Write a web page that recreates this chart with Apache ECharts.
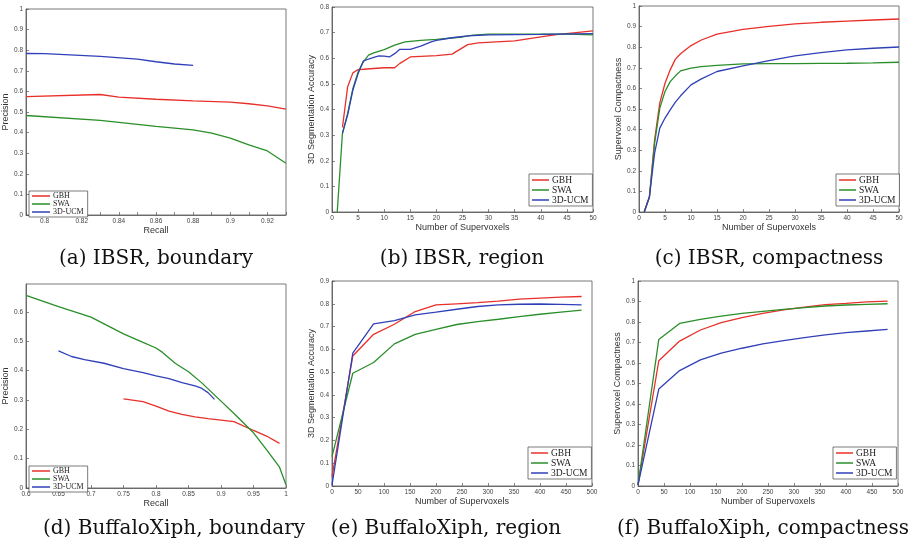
<!DOCTYPE html>
<html>
<head>
<meta charset="utf-8">
<script src="https://cdn.jsdelivr.net/npm/echarts@6/dist/echarts.min.js"></script>
<style>
  html, body { margin: 0; padding: 0; background: #fff; }
  #chart { width: 915px; height: 543px; }
</style>
</head>
<body>
<div id="chart"></div>
<script>
// series names
const names = ["GBH", "SWA", "3D-UCM"];
const colors = ["#e8302a", "#2a8f2a", "#3040b8"];

// (a) IBSR, boundary
const aGbhX = [0.79, 0.83, 0.84, 0.86, 0.88, 0.90, 0.91, 0.92, 0.93];
const aGbhY = [0.575, 0.585, 0.572, 0.562, 0.554, 0.548, 0.540, 0.530, 0.514];
const aSwaX = [0.79, 0.83, 0.86, 0.88, 0.89, 0.90, 0.91, 0.92, 0.93];
const aSwaY = [0.483, 0.459, 0.430, 0.413, 0.397, 0.373, 0.340, 0.311, 0.251];
const aUcmX = [0.79, 0.80, 0.83, 0.85, 0.86, 0.87, 0.88];
const aUcmY = [0.784, 0.783, 0.770, 0.757, 0.744, 0.733, 0.726];

// (b) IBSR, region
const bGbhX = [2, 3, 4, 5, 6, 8, 10, 12, 13, 15, 20, 23, 26, 28, 35, 40, 43, 50];
const bGbhY = [0.33, 0.489, 0.543, 0.556, 0.557, 0.560, 0.563, 0.563, 0.58, 0.605, 0.61, 0.616, 0.653, 0.66, 0.668, 0.683, 0.692, 0.707];
const bSwaX = [1, 2, 3, 4, 5, 6, 7, 8, 10, 12, 14, 17, 20, 25, 27, 30, 40, 45, 50];
const bSwaY = [0, 0.307, 0.385, 0.482, 0.547, 0.586, 0.612, 0.621, 0.634, 0.651, 0.664, 0.670, 0.674, 0.683, 0.69, 0.694, 0.694, 0.694, 0.691];
const bUcmX = [2, 3, 4, 5, 6, 7, 8, 9, 10, 11, 12, 13, 15, 17, 19, 20, 23, 26, 30, 40, 50];
const bUcmY = [0.307, 0.379, 0.476, 0.540, 0.589, 0.597, 0.603, 0.609, 0.608, 0.605, 0.618, 0.635, 0.635, 0.647, 0.664, 0.670, 0.68, 0.687, 0.691, 0.693, 0.696];

// (c) IBSR, compactness
const cX = [1, 2, 3, 4, 5, 6, 7, 8, 10, 12, 15, 20, 25, 30, 35, 40, 45, 50];
const cGbh = [0, 0.073, 0.35, 0.53, 0.625, 0.69, 0.742, 0.768, 0.808, 0.835, 0.863, 0.887, 0.901, 0.913, 0.921, 0.927, 0.932, 0.937];
const cSwa = [0, 0.073, 0.334, 0.504, 0.585, 0.633, 0.661, 0.685, 0.698, 0.706, 0.712, 0.719, 0.720, 0.720, 0.721, 0.722, 0.724, 0.727];
const cUcm = [0, 0.073, 0.286, 0.407, 0.456, 0.496, 0.533, 0.564, 0.617, 0.646, 0.682, 0.709, 0.735, 0.758, 0.774, 0.787, 0.795, 0.801];

// (d) BuffaloXiph, boundary
const dGbhX = [0.75, 0.78, 0.80, 0.82, 0.84, 0.86, 0.88, 0.92, 0.95, 0.97, 0.99];
const dGbhY = [0.304, 0.294, 0.279, 0.262, 0.251, 0.242, 0.236, 0.226, 0.196, 0.177, 0.152];
const dSwaX = [0.6, 0.65, 0.7, 0.75, 0.78, 0.8, 0.81, 0.83, 0.85, 0.87, 0.9, 0.92, 0.95, 0.97, 0.99, 1.0];
const dSwaY = [0.656, 0.618, 0.582, 0.525, 0.496, 0.477, 0.462, 0.424, 0.396, 0.359, 0.296, 0.254, 0.188, 0.131, 0.071, 0.011];
const dUcmX = [0.65, 0.67, 0.69, 0.72, 0.75, 0.78, 0.8, 0.82, 0.84, 0.86, 0.87, 0.88, 0.89];
const dUcmY = [0.467, 0.448, 0.437, 0.425, 0.407, 0.393, 0.382, 0.373, 0.359, 0.348, 0.340, 0.325, 0.302];

// (e) BuffaloXiph, region
const eX = [0, 40, 80, 120, 160, 200, 240, 280, 320, 360, 400, 440, 480];
const eGbh = [0.041, 0.571, 0.666, 0.71, 0.766, 0.795, 0.800, 0.805, 0.812, 0.82, 0.825, 0.829, 0.832];
const eSwa = [0.129, 0.495, 0.542, 0.624, 0.666, 0.688, 0.709, 0.722, 0.732, 0.744, 0.754, 0.763, 0.772];
const eUcm = [0.004, 0.583, 0.712, 0.726, 0.751, 0.763, 0.776, 0.788, 0.795, 0.798, 0.799, 0.797, 0.795];

// (f) BuffaloXiph, compactness
const fX = [0, 40, 80, 120, 160, 200, 240, 280, 320, 360, 400, 440, 480];
const fGbh = [0.005, 0.611, 0.707, 0.761, 0.797, 0.821, 0.842, 0.859, 0.873, 0.885, 0.891, 0.898, 0.902];
const fSwa = [0.005, 0.715, 0.793, 0.813, 0.829, 0.842, 0.852, 0.862, 0.870, 0.878, 0.883, 0.886, 0.889];
const fUcm = [0.005, 0.473, 0.563, 0.615, 0.648, 0.672, 0.693, 0.709, 0.724, 0.737, 0.748, 0.756, 0.764];

const captions = [
  "(a) IBSR, boundary", "(b) IBSR, region", "(c) IBSR, compactness",
  "(d) BuffaloXiph, boundary", "(e) BuffaloXiph, region", "(f) BuffaloXiph, compactness"
];

// zip x and y into points
function pts(xs, ys) {
  return xs.map((x, i) => [x, ys[i]]);
}

function fmt(v) {
  return String(parseFloat(v.toFixed(3)));
}

const panels = [
  {
    box: [26, 9, 260, 206], xMin: 0.79, xMax: 0.93, xStep: 0.01, yMin: 0, yMax: 1, yStep: 0.1,
    xName: "Recall", yName: "Precision", evenOnly: true,
    data: [pts(aGbhX, aGbhY), pts(aSwaX, aSwaY), pts(aUcmX, aUcmY)],
    legend: { left: 29, top: 191, size: 8, row: 7, icon: 18 }
  },
  {
    box: [332, 7, 261, 205], xMin: 0, xMax: 50, xStep: 5, yMin: 0, yMax: 0.8, yStep: 0.1,
    xName: "Number of Supervoxels", yName: "3D Segmentation Accuracy",
    data: [pts(bGbhX, bGbhY), pts(bSwaX, bSwaY), pts(bUcmX, bUcmY)],
    legend: { left: 529, top: 174, size: 9.5, row: 10, icon: 17 }
  },
  {
    box: [639, 6, 260, 206], xMin: 0, xMax: 50, xStep: 5, yMin: 0, yMax: 1, yStep: 0.1,
    xName: "Number of Supervoxels", yName: "Supervoxel Compactness",
    data: [pts(cX, cGbh), pts(cX, cSwa), pts(cX, cUcm)],
    legend: { left: 836, top: 174, size: 9.5, row: 10, icon: 17 }
  },
  {
    box: [26, 284, 260, 204], xMin: 0.6, xMax: 1, xStep: 0.05, yMin: 0, yMax: 0.695, yStep: 0.1,
    xName: "Recall", yName: "Precision", hideYMax: true,
    data: [pts(dGbhX, dGbhY), pts(dSwaX, dSwaY), pts(dUcmX, dUcmY)],
    legend: { left: 29, top: 466, size: 8, row: 7, icon: 18 }
  },
  {
    box: [332, 281, 260, 205], xMin: 0, xMax: 500, xStep: 50, yMin: 0, yMax: 0.9, yStep: 0.1,
    xName: "Number of Supervoxels", yName: "3D Segmentation Accuracy",
    data: [pts(eX, eGbh), pts(eX, eSwa), pts(eX, eUcm)],
    legend: { left: 528, top: 447, size: 9.5, row: 10, icon: 17 }
  },
  {
    box: [638, 281, 260, 205], xMin: 0, xMax: 500, xStep: 50, yMin: 0, yMax: 1, yStep: 0.1,
    xName: "Number of Supervoxels", yName: "Supervoxel Compactness",
    data: [pts(fX, fGbh), pts(fX, fSwa), pts(fX, fUcm)],
    legend: { left: 833, top: 447, size: 9.5, row: 10, icon: 17 }
  }
];

const captionPos = [[151, 244], [457, 244], [764, 244], [169, 514], [441, 514], [758, 514]];

const axisColor = "#555";
const grid = [], xAxis = [], yAxis = [], series = [], legend = [], title = [];

panels.forEach((p, i) => {
  grid.push({
    left: p.box[0], top: p.box[1], width: p.box[2], height: p.box[3],
    show: true, borderColor: axisColor, borderWidth: 0.8, backgroundColor: "#fff"
  });
  xAxis.push({
    type: "value", gridIndex: i, min: p.xMin, max: p.xMax, interval: p.xStep,
    name: p.xName, nameLocation: "middle", nameGap: 10,
    nameTextStyle: { fontFamily: "Liberation Sans", fontSize: 9, color: "#333" },
    axisLine: { show: true, lineStyle: { color: axisColor, width: 0.8 } },
    axisTick: { inside: true, length: 3, lineStyle: { color: axisColor, width: 0.7 } },
    axisLabel: {
      fontFamily: "Liberation Sans", fontSize: 6.5, color: "#444", margin: 3,
      formatter: v => {
        if (p.evenOnly && Math.round(v * 100) % 2 !== 0) return "";
        return fmt(v);
      }
    },
    splitLine: { show: false }
  });
  yAxis.push({
    type: "value", gridIndex: i, min: p.yMin, max: p.yMax, interval: p.yStep,
    name: p.yName, nameLocation: "middle", nameGap: 12, nameRotate: 90,
    nameTextStyle: { fontFamily: "Liberation Sans", fontSize: 9, color: "#333" },
    axisLine: { show: true, lineStyle: { color: axisColor, width: 0.8 } },
    axisTick: { inside: true, length: 3, lineStyle: { color: axisColor, width: 0.7 } },
    axisLabel: {
      fontFamily: "Liberation Sans", fontSize: 6.5, color: "#444", margin: 3,
      showMaxLabel: !p.hideYMax,
      formatter: v => fmt(v)
    },
    splitLine: { show: false }
  });
  p.data.forEach((d, k) => {
    series.push({
      type: "line", name: names[k], xAxisIndex: i, yAxisIndex: i,
      data: d, showSymbol: false, symbol: "none", animation: false,
      lineStyle: { color: colors[k], width: 1.3 },
      itemStyle: { color: colors[k] }
    });
  });
  legend.push({
    orient: "vertical", left: p.legend.left, top: p.legend.top,
    data: names, icon: "rect", itemWidth: p.legend.icon, itemHeight: 1.5,
    itemGap: 0, padding: [1, 4, 1, 3],
    backgroundColor: "#fff", borderColor: "#444", borderWidth: 0.7, borderRadius: 0,
    selectedMode: false,
    textStyle: {
      fontFamily: "Liberation Serif", fontSize: p.legend.size, color: "#222",
      lineHeight: p.legend.row, padding: [0, 0, 0, -2]
    }
  });
  title.push({
    text: captions[i], left: captionPos[i][0], top: captionPos[i][1], textAlign: "center",
    textStyle: { fontFamily: "DejaVu Serif", fontSize: 20, fontWeight: "normal", color: "#111" }
  });
});

const chart = echarts.init(document.getElementById("chart"), null, { renderer: "canvas" });
chart.setOption({
  backgroundColor: "#fff",
  animation: false,
  title: title,
  legend: legend,
  grid: grid,
  xAxis: xAxis,
  yAxis: yAxis,
  series: series
});
</script>
</body>
</html>
